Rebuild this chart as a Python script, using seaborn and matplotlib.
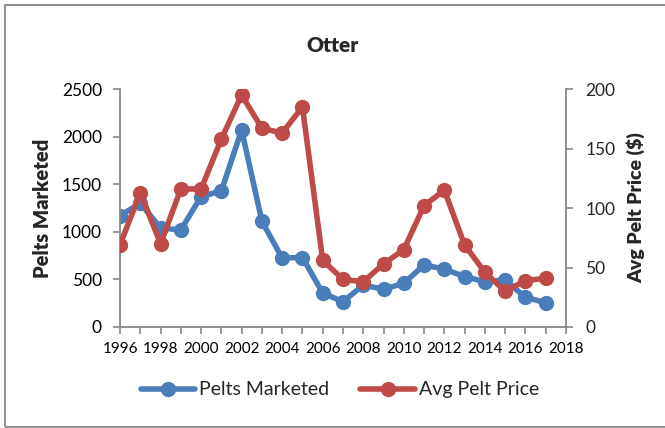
import pandas as pd
import matplotlib.pyplot as plt
import seaborn as sns
from matplotlib.patches import Rectangle
from matplotlib.lines import Line2D
from matplotlib.ticker import MultipleLocator

# Otter harvest data
years = list(range(1996, 2018))
pelts = [1170, 1300, 1040, 1020, 1370, 1430, 2070, 1110, 725, 730,
         357, 265, 441, 396, 459, 651, 609, 529, 476, 494, 312, 255]
price = [69, 113, 70, 116, 116, 158, 195, 167, 163, 185,
         56, 40, 38, 53, 65, 102, 115, 69, 46, 30, 39, 41]

df = pd.DataFrame({'Year': years, 'Pelts Marketed': pelts, 'Avg Pelt Price': price})

sns.set_style("white")
plt.rcParams['font.family'] = ['Lato', 'DejaVu Sans']

blue = '#4A7EBB'
red = '#BE4B48'
grey = '#868686'
lw = 4.0
ms = 11

fig = plt.figure(figsize=(6.65, 4.28), dpi=100)
ax = fig.add_axes([0.1805, 0.236, 0.6705, 0.556])
ax2 = ax.twinx()

sns.lineplot(data=df, x='Year', y='Pelts Marketed', ax=ax, color=blue, linewidth=lw,
             marker='o', markersize=ms, markeredgewidth=0, zorder=2)
sns.lineplot(data=df, x='Year', y='Avg Pelt Price', ax=ax2, color=red, linewidth=lw,
             marker='o', markersize=ms, markeredgewidth=0, zorder=3)

ax.set_xlim(1996, 2018)
ax.set_ylim(0, 2500)
ax2.set_ylim(0, 200)
ax.xaxis.set_major_locator(MultipleLocator(2))
ax.xaxis.set_minor_locator(MultipleLocator(1))
ax.yaxis.set_major_locator(MultipleLocator(500))
ax2.yaxis.set_major_locator(MultipleLocator(50))

for a in (ax, ax2):
    for s in a.spines.values():
        s.set_visible(False)
    a.grid(False)
ax.spines['left'].set_visible(True)
ax.spines['bottom'].set_visible(True)
ax2.spines['right'].set_visible(True)
for s in (ax.spines['left'], ax.spines['bottom'], ax2.spines['right']):
    s.set_color(grey)
    s.set_linewidth(1.3)

ax.tick_params(axis='both', which='both', direction='out', color=grey, width=1.2,
               labelcolor='black')
ax.tick_params(axis='x', which='both', length=5, pad=6, labelsize=11, bottom=True)
ax.tick_params(axis='y', length=5, pad=8, labelsize=12.5, left=True)
ax2.tick_params(axis='y', direction='out', color=grey, width=1.2, length=5, pad=9,
                labelsize=12.5, right=True)

ax.set_xlabel('')
ax.set_ylabel('Pelts Marketed', fontsize=14.5, fontweight='heavy', labelpad=7)
ax2.set_ylabel('Avg Pelt Price ($)', fontsize=14, fontweight='heavy', labelpad=8)

fig.text(0.5, 0.893, 'Otter', ha='center', va='center', fontsize=15, fontweight='heavy')

handles = [Line2D([], [], color=blue, linewidth=lw, marker='o', markersize=ms, markeredgewidth=0),
           Line2D([], [], color=red, linewidth=lw, marker='o', markersize=ms, markeredgewidth=0)]
fig.legend(handles, ['Pelts Marketed', 'Avg Pelt Price'], loc='center',
           bbox_to_anchor=(0.511, 0.089), ncol=2, frameon=False, fontsize=14,
           handlelength=2.8, handletextpad=0.2, columnspacing=1.6)

fig.patches.append(Rectangle((5 / 665, 1.5 / 428), 1.0, 1 - 6.5 / 428, transform=fig.transFigure,
                             fill=False, edgecolor=grey, linewidth=1.3))

fig.savefig('out.png', dpi=100)
